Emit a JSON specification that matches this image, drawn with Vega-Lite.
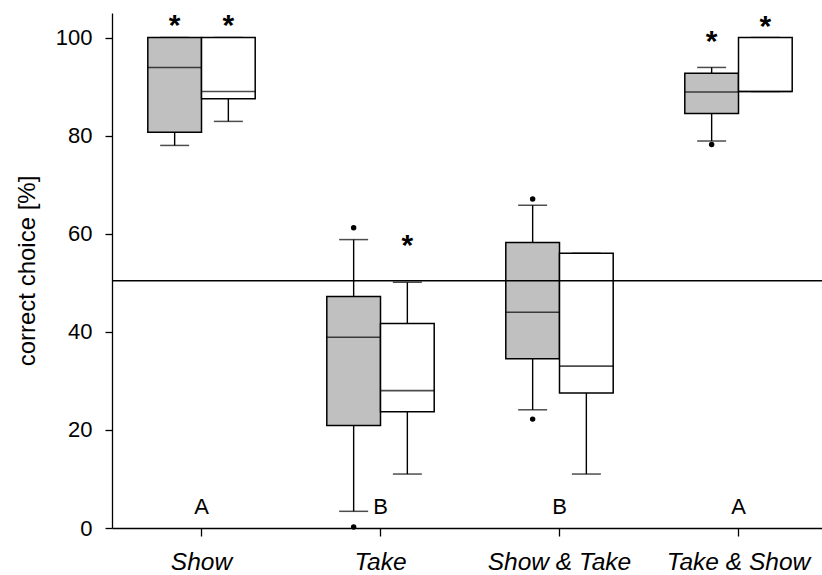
{
  "$schema": "https://vega.github.io/schema/vega-lite/v6.json",
  "autosize": {"type": "none"},
  "padding": {"left": 112, "top": 13, "right": 0, "bottom": 47},
  "width": 710,
  "height": 515,
  "config": {
    "view": {"stroke": null},
    "font": "Liberation Sans",
    "axis": {"domainColor": "#000000", "tickColor": "#000000", "labelColor": "#000000", "titleColor": "#000000", "grid": false, "domainWidth": 1.3, "tickWidth": 1.3}
  },
  "datasets": {
    "boxes": [
      {"cat": "Show", "grp": "g1", "lo": 78.0, "q1": 80.7, "med": 93.9, "q3": 100, "hi": 100},
      {"cat": "Show", "grp": "g2", "lo": 82.9, "q1": 87.5, "med": 89.0, "q3": 100, "hi": 100},
      {"cat": "Take", "grp": "g1", "lo": 3.4, "q1": 20.9, "med": 38.9, "q3": 47.2, "hi": 58.8},
      {"cat": "Take", "grp": "g2", "lo": 11.0, "q1": 23.7, "med": 28.0, "q3": 41.7, "hi": 50.1},
      {"cat": "Show & Take", "grp": "g1", "lo": 24.1, "q1": 34.5, "med": 44.0, "q3": 58.2, "hi": 65.8},
      {"cat": "Show & Take", "grp": "g2", "lo": 11.0, "q1": 27.5, "med": 33.0, "q3": 56.0, "hi": 56.0},
      {"cat": "Take & Show", "grp": "g1", "lo": 78.9, "q1": 84.5, "med": 88.9, "q3": 92.7, "hi": 93.9},
      {"cat": "Take & Show", "grp": "g2", "lo": 89.0, "q1": 89.0, "med": 89.0, "q3": 100, "hi": 100}
    ],
    "outliers": [
      {"cat": "Take", "grp": "g1", "v": 61.2},
      {"cat": "Take", "grp": "g1", "v": 0.2},
      {"cat": "Show & Take", "grp": "g1", "v": 67.1},
      {"cat": "Show & Take", "grp": "g1", "v": 22.2},
      {"cat": "Take & Show", "grp": "g1", "v": 78.2}
    ],
    "stars": [
      {"cat": "Show", "grp": "g1", "v": 103.5, "t": "*"},
      {"cat": "Show", "grp": "g2", "v": 103.5, "t": "*"},
      {"cat": "Take", "grp": "g2", "v": 58.8, "t": "*"},
      {"cat": "Take & Show", "grp": "g1", "v": 100.4, "t": "*"},
      {"cat": "Take & Show", "grp": "g2", "v": 103.3, "t": "*"}
    ],
    "letters": [
      {"cat": "Show", "v": 2.8, "t": "A"},
      {"cat": "Take", "v": 2.8, "t": "B"},
      {"cat": "Show & Take", "v": 2.8, "t": "B"},
      {"cat": "Take & Show", "v": 2.8, "t": "A"}
    ],
    "ref": [{"v": 50.4}]
  },
  "encoding": {
    "x": {
      "field": "cat", "type": "nominal",
      "sort": ["Show", "Take", "Show & Take", "Take & Show"],
      "scale": {"domain": ["Show", "Take", "Show & Take", "Take & Show"], "range": [0, 716], "paddingInner": 0.4, "paddingOuter": 0.2},
      "axis": {"title": null, "labelAngle": 0, "labelFontStyle": "italic", "labelFontSize": 24.5, "tickSize": 8, "labelPadding": 33, "labelBaseline": "alphabetic"}
    }
  },
  "layer": [
    {
      "data": {"name": "boxes"},
      "mark": {"type": "rule", "color": "#000000", "strokeWidth": 1.4},
      "encoding": {
        "xOffset": {"field": "grp", "type": "nominal", "scale": {"domain": ["g1", "g2"], "paddingInner": 0, "paddingOuter": 0}},
        "y": {"field": "lo", "type": "quantitative", "scale": {"domain": [0, 105], "nice": false, "zero": true},
          "axis": {"values": [0, 20, 40, 60, 80, 100], "title": "correct choice [%]", "titleFontSize": 24, "titleFontWeight": "normal", "titlePadding": 16, "labelFontSize": 22, "tickSize": 7, "labelPadding": 13}},
        "y2": {"field": "q1"}
      }
    },
    {
      "data": {"name": "boxes"},
      "mark": {"type": "rule", "color": "#000000", "strokeWidth": 1.4},
      "encoding": {
        "xOffset": {"field": "grp", "type": "nominal", "scale": {"domain": ["g1", "g2"], "paddingInner": 0, "paddingOuter": 0}},
        "y": {"field": "q3", "type": "quantitative"},
        "y2": {"field": "hi"}
      }
    },
    {
      "data": {"name": "boxes"},
      "mark": {"type": "tick", "color": "#000000", "size": 29, "thickness": 1.5, "orient": "horizontal"},
      "encoding": {
        "xOffset": {"field": "grp", "type": "nominal", "scale": {"domain": ["g1", "g2"], "paddingInner": 0, "paddingOuter": 0}},
        "y": {"field": "lo", "type": "quantitative"}
      }
    },
    {
      "data": {"name": "boxes"},
      "mark": {"type": "tick", "color": "#000000", "size": 29, "thickness": 1.5, "orient": "horizontal"},
      "encoding": {
        "xOffset": {"field": "grp", "type": "nominal", "scale": {"domain": ["g1", "g2"], "paddingInner": 0, "paddingOuter": 0}},
        "y": {"field": "hi", "type": "quantitative"}
      }
    },
    {
      "data": {"name": "boxes"},
      "mark": {"type": "bar", "stroke": "#000000", "strokeWidth": 1.5},
      "encoding": {
        "xOffset": {"field": "grp", "type": "nominal", "scale": {"domain": ["g1", "g2"], "paddingInner": 0, "paddingOuter": 0}},
        "y": {"field": "q1", "type": "quantitative"},
        "y2": {"field": "q3"},
        "fill": {"field": "grp", "type": "nominal", "scale": {"domain": ["g1", "g2"], "range": ["#c0c0c0", "#ffffff"]}, "legend": null}
      }
    },
    {
      "data": {"name": "boxes"},
      "mark": {"type": "tick", "color": "#000000", "size": 53.7, "thickness": 1.6, "orient": "horizontal"},
      "encoding": {
        "xOffset": {"field": "grp", "type": "nominal", "scale": {"domain": ["g1", "g2"], "paddingInner": 0, "paddingOuter": 0}},
        "y": {"field": "med", "type": "quantitative"}
      }
    },
    {
      "data": {"name": "outliers"},
      "mark": {"type": "circle", "color": "#000000", "size": 30, "opacity": 1},
      "encoding": {
        "xOffset": {"field": "grp", "type": "nominal", "scale": {"domain": ["g1", "g2"], "paddingInner": 0, "paddingOuter": 0}},
        "y": {"field": "v", "type": "quantitative"}
      }
    },
    {
      "data": {"name": "stars"},
      "mark": {"type": "text", "color": "#000000", "fontSize": 30, "fontWeight": "bold", "baseline": "middle", "dy": 6},
      "encoding": {
        "xOffset": {"field": "grp", "type": "nominal", "scale": {"domain": ["g1", "g2"], "paddingInner": 0, "paddingOuter": 0}},
        "y": {"field": "v", "type": "quantitative"},
        "text": {"field": "t"}
      }
    },
    {
      "data": {"name": "letters"},
      "mark": {"type": "text", "color": "#000000", "fontSize": 22, "baseline": "alphabetic"},
      "encoding": {
        "y": {"field": "v", "type": "quantitative"},
        "text": {"field": "t"}
      }
    },
    {
      "data": {"name": "ref"},
      "mark": {"type": "rule", "color": "#000000", "strokeWidth": 1.4},
      "encoding": {
        "x": null,
        "y": {"field": "v", "type": "quantitative"}
      }
    }
  ]
}
